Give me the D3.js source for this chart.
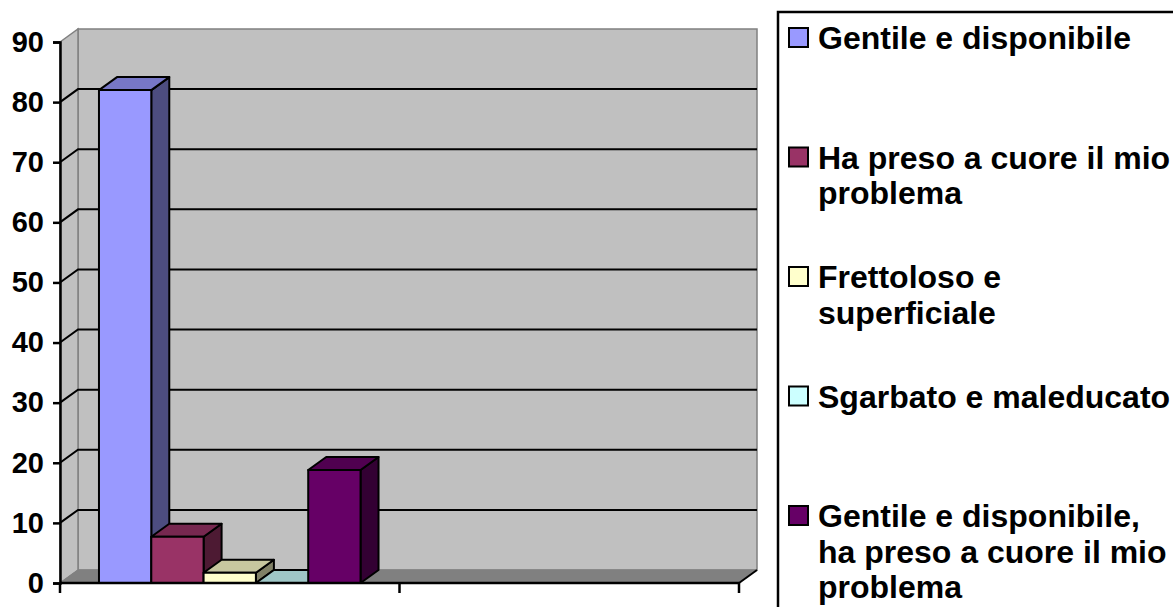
<!DOCTYPE html>
<html>
<head>
<meta charset="utf-8">
<script src="https://cdn.jsdelivr.net/npm/d3@7"></script>
<style>
  html, body { margin: 0; padding: 0; background: #fff; }
  svg { display: block; font-family: "Liberation Sans", Arial, sans-serif; font-weight: bold; }
</style>
</head>
<body>
<svg id="chart" width="1173" height="607"></svg>
<script>
// data
var categories = ["", ""];
var seriesNames = [
  "Gentile e disponibile",
  "Ha preso a cuore il mio problema",
  "Frettoloso e superficiale",
  "Sgarbato e maleducato",
  "Gentile e disponibile, ha preso a cuore il mio problema"
];
var legendLines = [
  ["Gentile e disponibile"],
  ["Ha preso a cuore il mio", "problema"],
  ["Frettoloso e", "superficiale"],
  ["Sgarbato e maleducato"],
  ["Gentile e disponibile,", "ha preso a cuore il mio", "problema"]
];
var seriesValues = [82, 7.7, 1.7, 0, 18.8];
var seriesColors = ["#9999ff", "#993366", "#ffffcc", "#ccffff", "#660066"];
var yTicks = [0, 10, 20, 30, 40, 50, 60, 70, 80, 90];

var DX = 18;
var DY = -13;
var FONT = "'Liberation Sans', Arial, sans-serif";

var svg = d3.select("#chart");

var y = d3.scaleLinear().domain([0, 90]).range([583, 42]);
var xCat = d3.scaleBand().domain(d3.range(categories.length)).range([60, 739]);
var xSer = d3.scaleBand().domain(d3.range(seriesNames.length))
  .range([0, xCat.bandwidth()])
  .paddingInner(0)
  .paddingOuter(0.745);

var x0 = xCat.range()[0];
var x1 = xCat.range()[1];
var yTop = y(90);
var yBase = y(0);

function pts(list) {
  return list.map(function(p) { return p.join(","); }).join(" ");
}
function shade(c, k) {
  var r = d3.rgb(c);
  return d3.rgb(r.r * k, r.g * k, r.b * k).formatHex();
}

// walls and floor
svg.append("polygon")
  .attr("points", pts([[x0 + DX, yTop + DY], [x1 + DX, yTop + DY], [x1 + DX, yBase + DY], [x0 + DX, yBase + DY]]))
  .attr("fill", "#c0c0c0").attr("stroke", "#808080").attr("stroke-width", 1.5);
svg.append("polygon")
  .attr("points", pts([[x0, yTop], [x0 + DX, yTop + DY], [x0 + DX, yBase + DY], [x0, yBase]]))
  .attr("fill", "#c0c0c0").attr("stroke", "#808080").attr("stroke-width", 1.5);
svg.append("polygon")
  .attr("points", pts([[x0, yBase], [x0 + DX, yBase + DY], [x1 + DX, yBase + DY], [x1, yBase]]))
  .attr("fill", "#808080").attr("stroke", "#808080").attr("stroke-width", 1);

// gridlines on back wall and side wall
var grid = yTicks.filter(function(v) { return v > 0 && v < 90; });
svg.append("g").selectAll("path")
  .data(grid)
  .enter()
  .append("path")
  .attr("d", function(v) {
    return "M" + x0 + "," + y(v) + "L" + (x0 + DX) + "," + (y(v) + DY) + "L" + (x1 + DX) + "," + (y(v) + DY);
  })
  .attr("fill", "none")
  .attr("stroke", "#000")
  .attr("stroke-width", 2);

// bars, left to right so each front covers the previous side
var bars = svg.append("g");
seriesValues.forEach(function(v, i) {
  var bx = xCat(0) + xSer(i);
  var bw = xSer.bandwidth();
  var ty = y(v);
  var c = seriesColors[i];
  var g = bars.append("g").attr("stroke", "#000").attr("stroke-width", 2).attr("stroke-linejoin", "round");
  g.append("polygon")
    .attr("points", pts([[bx + bw, ty], [bx + bw + DX, ty + DY], [bx + bw + DX, yBase + DY], [bx + bw, yBase]]))
    .attr("fill", shade(c, 0.5));
  g.append("polygon")
    .attr("points", pts([[bx, ty], [bx + DX, ty + DY], [bx + bw + DX, ty + DY], [bx + bw, ty]]))
    .attr("fill", shade(c, 0.78));
  if (v > 0) {
    g.append("rect")
      .attr("x", bx).attr("y", ty)
      .attr("width", bw).attr("height", yBase - ty)
      .attr("fill", c);
  }
});

// floor right edge
svg.append("line")
  .attr("x1", x1).attr("y1", yBase).attr("x2", x1 + DX).attr("y2", yBase + DY)
  .attr("stroke", "#000").attr("stroke-width", 2);

// y axis
var yAxis = d3.axisLeft(y).tickValues(yTicks).tickSize(7).tickPadding(9).tickFormat(d3.format("d"));
var ya = svg.append("g").attr("transform", "translate(" + x0 + ",0)").call(yAxis);
ya.attr("font-family", FONT);
ya.select(".domain").attr("stroke", "#000").attr("stroke-width", 2.5);
ya.selectAll(".tick line").attr("stroke", "#000").attr("stroke-width", 2.5);
ya.selectAll(".tick text")
  .attr("fill", "#000")
  .style("font-size", "29px")
  .style("font-weight", "bold")
  .style("font-family", FONT);

// x axis: line and ticks at category boundaries
var xBounds = d3.range(categories.length + 1).map(function(k) {
  return k < categories.length ? xCat(k) : x1;
});
svg.append("line")
  .attr("x1", x0).attr("y1", yBase).attr("x2", x1).attr("y2", yBase)
  .attr("stroke", "#000").attr("stroke-width", 2.5);
svg.append("g").selectAll("line")
  .data(xBounds)
  .enter()
  .append("line")
  .attr("x1", function(d) { return d; })
  .attr("x2", function(d) { return d; })
  .attr("y1", yBase)
  .attr("y2", yBase + 10)
  .attr("stroke", "#000")
  .attr("stroke-width", 2.5);

// legend
var legend = svg.append("g");
legend.append("rect")
  .attr("x", 778).attr("y", 12)
  .attr("width", 600).attr("height", 700)
  .attr("fill", "#fff").attr("stroke", "#000").attr("stroke-width", 2.5);
legendLines.forEach(function(lines, i) {
  var base = 49 + i * 119.5;
  legend.append("rect")
    .attr("x", 789).attr("y", base - 21)
    .attr("width", 19).attr("height", 19)
    .attr("fill", seriesColors[i])
    .attr("stroke", "#000").attr("stroke-width", 2);
  var t = legend.append("text")
    .attr("x", 818).attr("y", base)
    .style("font-size", "32px")
    .style("font-family", FONT)
    .attr("fill", "#000");
  lines.forEach(function(line, j) {
    t.append("tspan").attr("x", 818).attr("dy", j === 0 ? 0 : 35.5).text(line);
  });
});
</script>
</body>
</html>
